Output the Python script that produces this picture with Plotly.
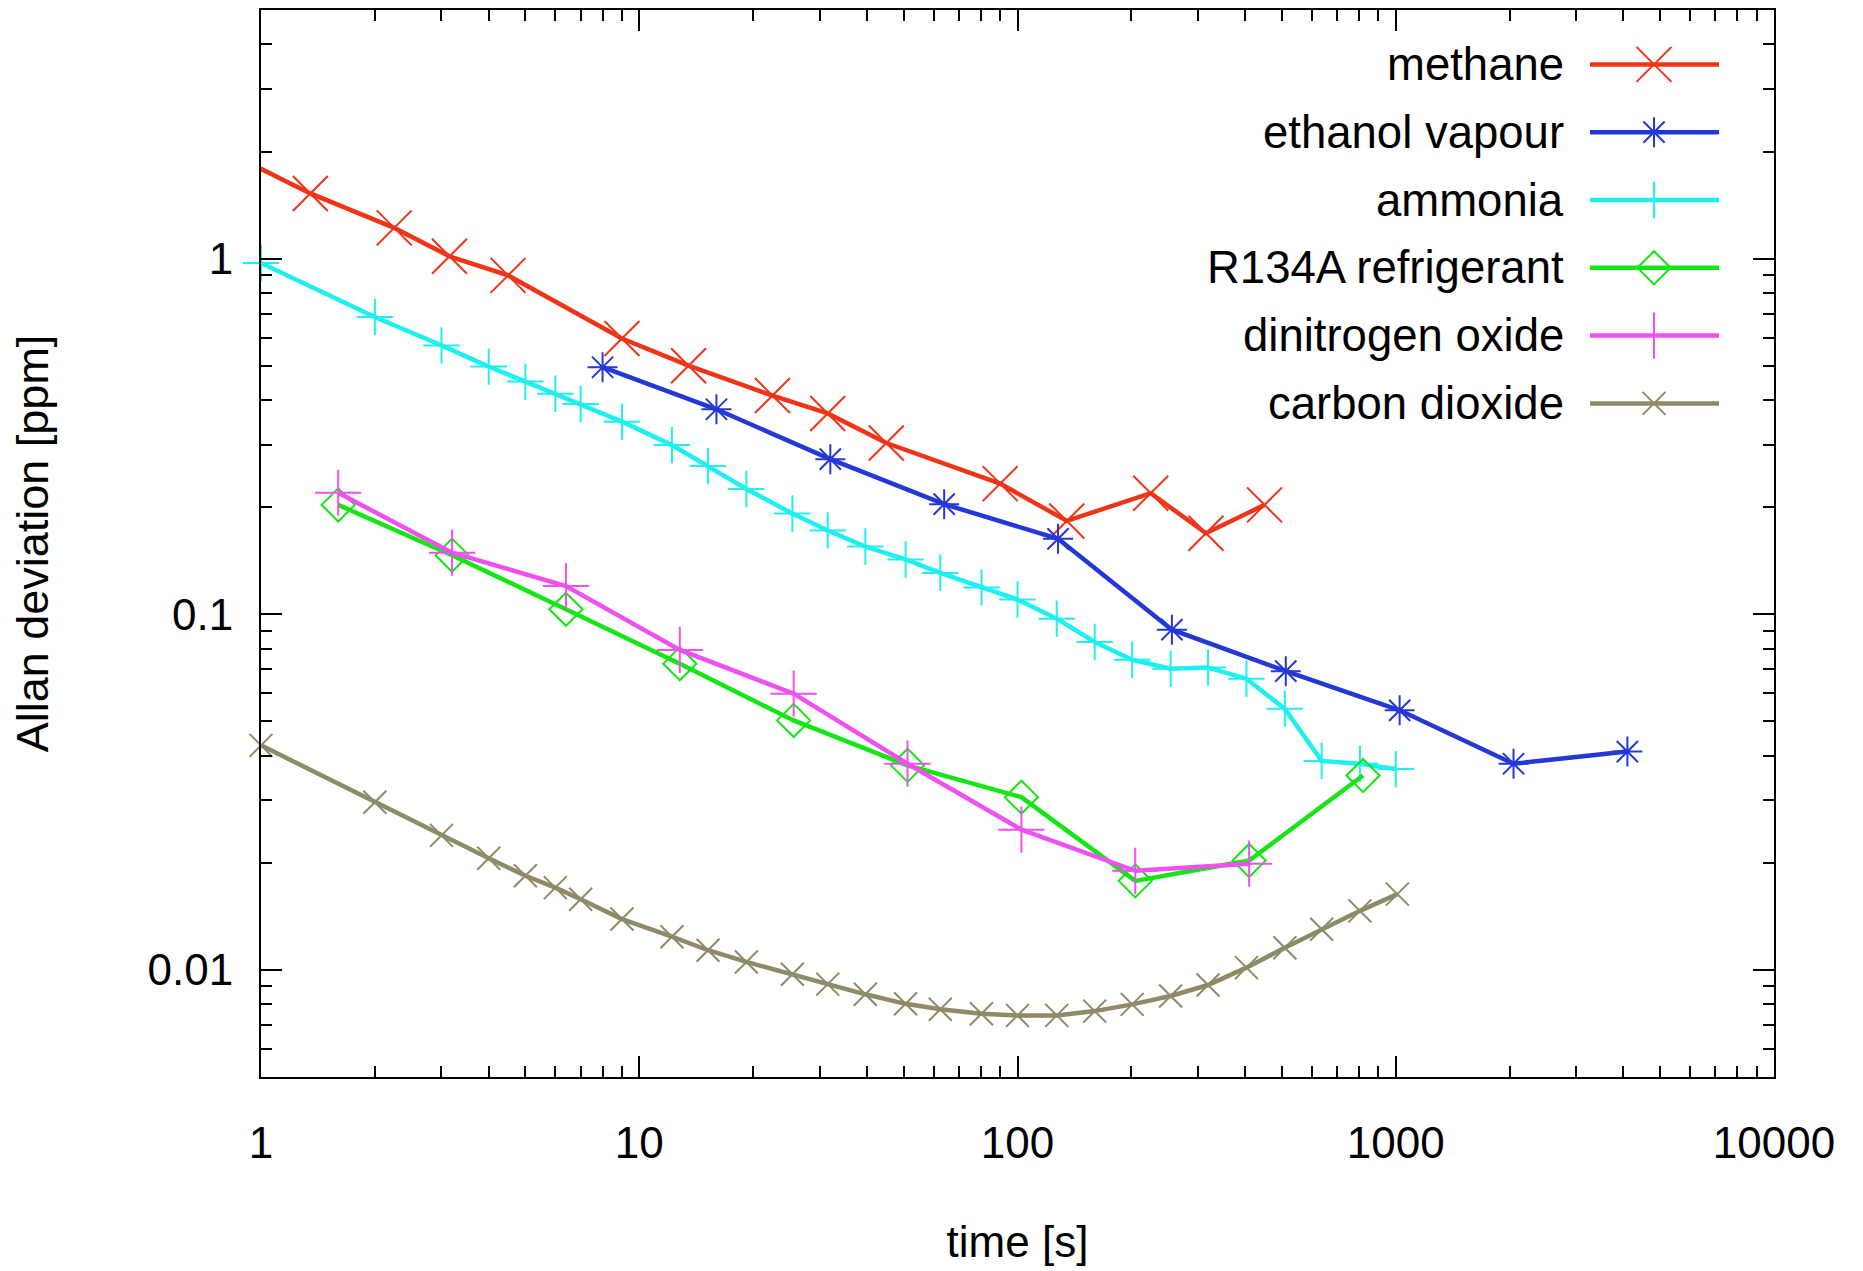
import plotly.graph_objects as go

# ---------------- data ----------------
methane_t = [0.9, 1.35, 2.25, 3.15, 4.5, 9, 13.5, 22.5, 31.5, 45, 90, 135, 225, 315, 450]
methane_adev = [1.89, 1.525, 1.22, 1.015, 0.897, 0.596, 0.50, 0.412, 0.367, 0.303,
                0.233, 0.183, 0.219, 0.169, 0.203]

ethanol_t = [8, 16, 32, 64, 128, 256, 512, 1024, 2048, 4096]
ethanol_adev = [0.495, 0.377, 0.273, 0.204, 0.163, 0.0905, 0.0692, 0.0537, 0.038, 0.0411]

ammonia_t = [1, 2, 3, 4, 5, 6, 7, 9, 12.2, 15.2, 19.2, 25.4, 31.5, 39.6, 50.6, 62.5, 80.3,
             100, 127, 160, 201, 254, 319, 403, 509, 637, 804, 1000]
ammonia_adev = [0.972, 0.685, 0.570, 0.497, 0.451, 0.417, 0.39, 0.348, 0.299, 0.261, 0.225,
                0.192, 0.172, 0.155, 0.1426, 0.1307, 0.119, 0.110, 0.0972, 0.0836, 0.0745,
                0.0703, 0.0708, 0.0659, 0.0542, 0.0387, 0.038, 0.0367]

r134a_t = [1.6, 3.2, 6.4, 12.8, 25.6, 51.2, 102.4, 204.8, 409.6, 819.2]
r134a_adev = [0.203, 0.1466, 0.1033, 0.0726, 0.0503, 0.0376, 0.0306, 0.0178, 0.0203, 0.0352]

n2o_t = [1.6, 3.2, 6.4, 12.8, 25.6, 51.2, 102.4, 204.8, 409.6]
n2o_adev = [0.2196, 0.149, 0.12, 0.0794, 0.0598, 0.038, 0.0248, 0.019, 0.0199]

co2_t = [1, 2, 3, 4, 5, 6, 7, 9, 12.2, 15.2, 19.2, 25.4, 31.5, 39.6, 50.6, 62.5, 80.3,
         100, 127, 160, 201, 254, 319, 403, 509, 637, 804, 1010]
co2_adev = [0.0428, 0.0296, 0.0239, 0.0206, 0.0184, 0.01704, 0.0158, 0.0139, 0.0124, 0.01136,
            0.01053, 0.00972, 0.00912, 0.00854, 0.00803, 0.00775, 0.00753, 0.00745, 0.00745,
            0.00766, 0.0080, 0.00845, 0.00907, 0.01015, 0.01155, 0.01302, 0.01466, 0.01634]

series_names = ["methane", "ethanol vapour", "ammonia", "R134A refrigerant",
                "dinitrogen oxide", "carbon dioxide"]

x_tick_vals = [1, 10, 100, 1000, 10000]
x_tick_text = ["1", "10", "100", "1000", "10000"]
y_tick_vals = [0.01, 0.1, 1]
y_tick_text = ["0.01", "0.1", "1"]

x_title = "time [s]"
y_title = "Allan deviation [ppm]"

# ---------------- styles ----------------
FONT = "Liberation Sans, Arial, Helvetica, sans-serif"
LW = 4.5
styles = [
    dict(color="#f03418", symbol="x-thin", size=35),
    dict(color="#2438d8", symbol="asterisk-open", size=25),
    dict(color="#1ef0f0", symbol="cross-thin", size=26),
    dict(color="#14e614", symbol="diamond-open", size=25.5),
    dict(color="#f050f0", symbol="cross-thin", size=33),
    dict(color="#8f8a68", symbol="x-thin", size=23),
]
series = [(methane_t, methane_adev), (ethanol_t, ethanol_adev), (ammonia_t, ammonia_adev),
          (r134a_t, r134a_adev), (n2o_t, n2o_adev), (co2_t, co2_adev)]

W, H = 1863, 1271
ML, MR, MT, MB = 261, 89, 10, 194
PW, PH = W - ML - MR, H - MT - MB

fig = go.Figure()
for name, (t, a), st in zip(series_names, series, styles):
    fig.add_trace(go.Scatter(
        x=t, y=a, name=name, mode="lines+markers", cliponaxis=False, showlegend=False,
        line=dict(color=st["color"], width=LW),
        marker=dict(symbol=st["symbol"], size=st["size"], color=st["color"],
                    line=dict(color=st["color"], width=2)),
    ))

# ---------------- custom legend (text left, sample right) ----------------
def fx(px):
    return (px - ML) / PW

def fy(py):
    return (H - MB - py) / PH

shapes = []
annotations = []
for i, (name, st) in enumerate(zip(series_names, styles)):
    ry = fy(64.4 + 67.8 * i)
    annotations.append(dict(x=fx(1566), y=ry, xref="paper", yref="paper", text=name,
                            showarrow=False, xanchor="right", yanchor="middle",
                            font=dict(family=FONT, size=45.5, color="black")))
    shapes.append(dict(type="line", xref="paper", yref="paper", x0=fx(1590), x1=fx(1719),
                       y0=ry, y1=ry, line=dict(color=st["color"], width=LW), layer="below"))
    fig.add_trace(go.Scatter(
        x=[fx(1654)], y=[ry], xaxis="x2", yaxis="y2", mode="markers", showlegend=False,
        hoverinfo="skip", cliponaxis=False,
        marker=dict(symbol=st["symbol"], size=st["size"], color=st["color"],
                    line=dict(color=st["color"], width=2)),
    ))

def minor_vals(lo, hi):
    out = []
    for d in range(lo, hi):
        for k in range(2, 10):
            out.append(k * 10.0 ** d)
    return out

axis_common = dict(
    type="log", showgrid=False, zeroline=False, showline=True, linecolor="black",
    linewidth=2, mirror="ticks", ticks="inside", ticklen=21, tickwidth=2, tickcolor="black",
    tickfont=dict(family=FONT, size=44, color="black"), automargin=False,
)

fig.update_layout(
    width=W, height=H, margin=dict(l=ML, r=MR, t=MT, b=MB),
    paper_bgcolor="white", plot_bgcolor="white", showlegend=False,
    font=dict(family=FONT, size=44, color="black"),
    xaxis=dict(axis_common, range=[0, 4], tickmode="array", tickvals=x_tick_vals,
               ticktext=x_tick_text, ticklabelstandoff=26,
               minor=dict(tickmode="array", tickvals=minor_vals(0, 4), ticks="inside",
                          ticklen=11, tickwidth=2, tickcolor="black", showgrid=False),
               title=dict(text=x_title, standoff=60, font=dict(family=FONT, size=44))),
    yaxis=dict(axis_common, range=[-2.30103, 0.69897], tickmode="array", tickvals=y_tick_vals,
               ticktext=y_tick_text, ticklabelstandoff=17,
               minor=dict(tickmode="array", tickvals=minor_vals(-3, 1), ticks="inside",
                          ticklen=11, tickwidth=2, tickcolor="black", showgrid=False),
               title=dict(text=y_title, standoff=85, font=dict(family=FONT, size=45))),
    xaxis2=dict(overlaying="x", range=[0, 1], visible=False, fixedrange=True),
    yaxis2=dict(overlaying="y", range=[0, 1], visible=False, fixedrange=True),
    shapes=shapes, annotations=annotations,
)

fig.write_html("out.html", config={"displayModeBar": False},
               post_script="document.body.style.margin='0';")
